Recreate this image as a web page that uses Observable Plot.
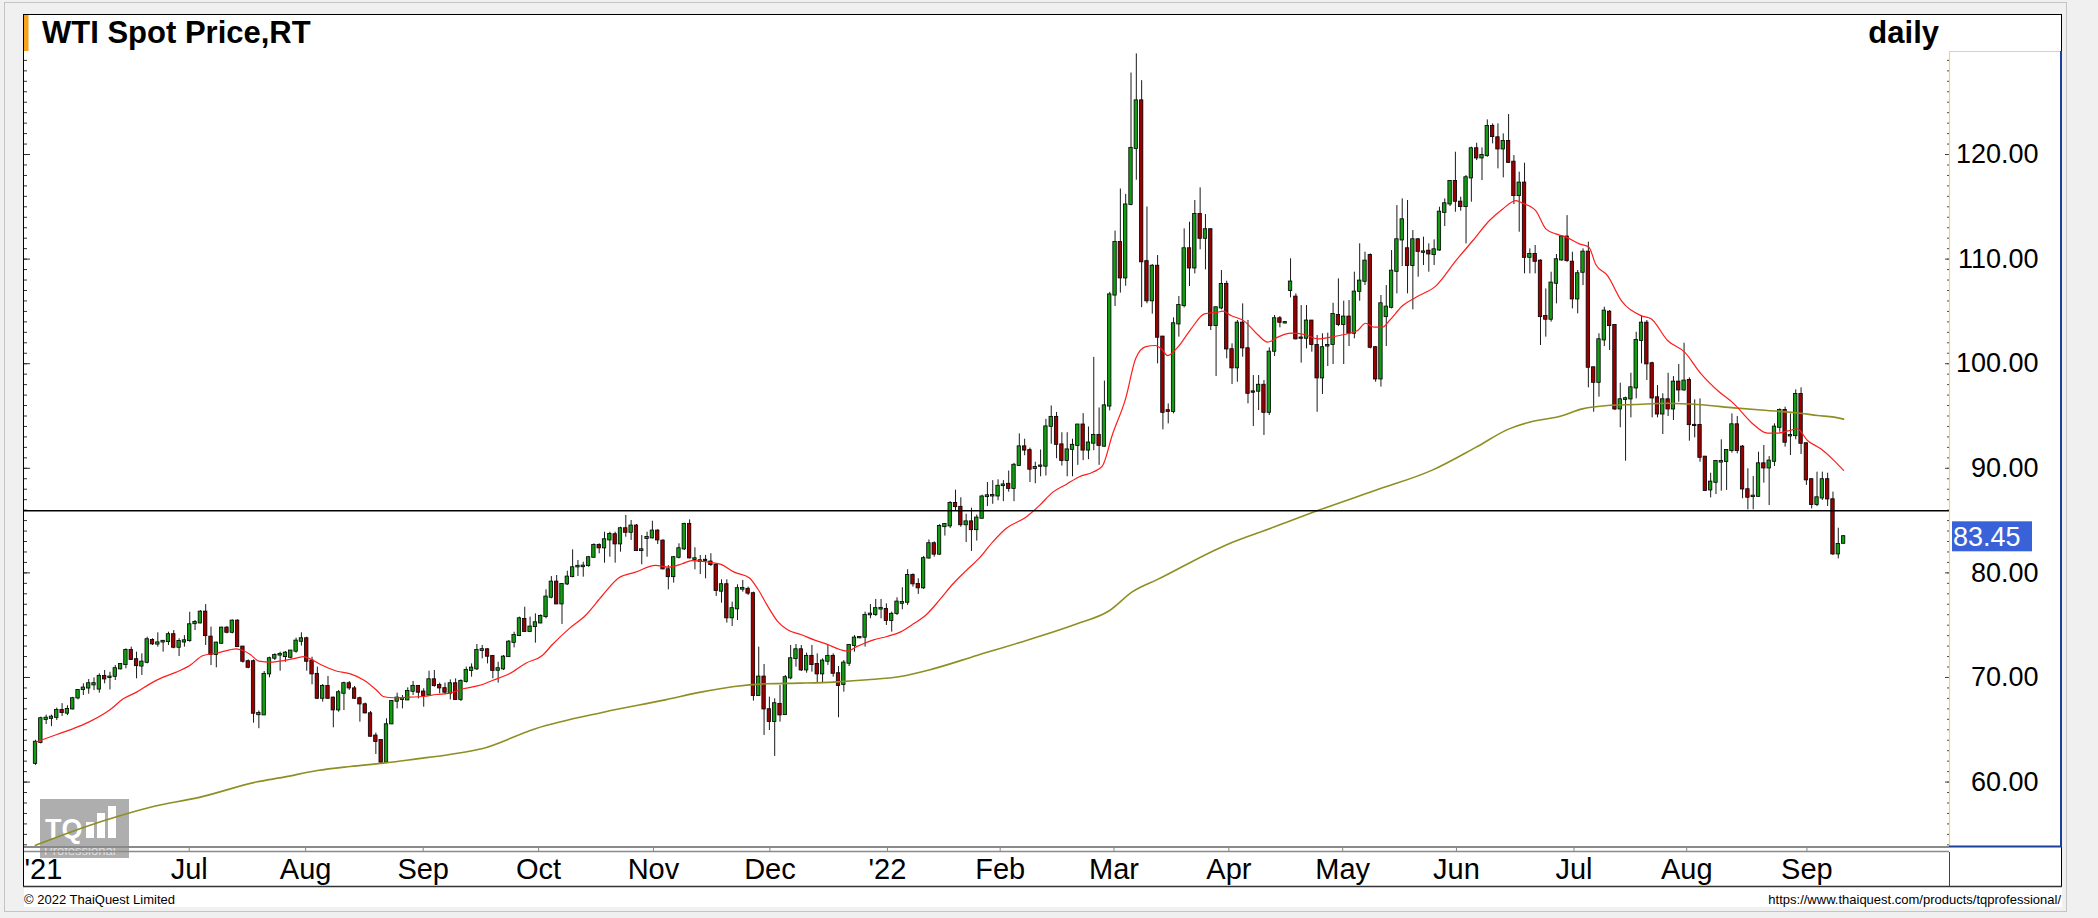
<!DOCTYPE html>
<html><head><meta charset="utf-8">
<script src="https://cdn.jsdelivr.net/npm/d3@7"></script>
<script src="https://cdn.jsdelivr.net/npm/@observablehq/plot@0.6"></script>
<style>
body{margin:0;background:#f0f0f0;}
#wrap{position:relative;width:2098px;height:918px;overflow:hidden;font-family:"Liberation Sans",Arial,sans-serif;}
#bg,#fg,#chart{position:absolute;left:0;top:0;}
#fg{pointer-events:none;}
</style></head><body>
<div id="wrap">
<svg id="bg" width="2098" height="918">
  <rect x="4.5" y="2.5" width="2062" height="909" fill="none" stroke="#c4c4c4"/>
  <rect x="24" y="14" width="2038" height="893" fill="#fff"/>
  <g opacity="0.8">
    <rect x="40" y="799" width="89" height="59" fill="#9a9a9a"/>
    <text x="45" y="838" font-family="Liberation Sans, Arial, sans-serif" font-weight="bold" font-size="27" fill="#fff">TQ</text>
    <rect x="86" y="822" width="8" height="16" fill="#fff"/>
    <rect x="97" y="813" width="8" height="25" fill="#fff"/>
    <rect x="108" y="806" width="8" height="32" fill="#fff"/>
    <text x="44" y="855" font-family="Liberation Sans, Arial, sans-serif" font-size="13" fill="#dcdcdc">Professional</text>
  </g>
</svg>
<div id="chart"></div>
<svg id="fg" width="2098" height="918"></svg>
</div>
<script>
// ---------- data (daily candles, index 0 = first candle) ----------
const opens = [
61.8,63.8,66.0,66.1,66.2,66.84,66.6,67.0,68.05,68.85,
69.0,69.3,68.9,70.09,70.0,70.12,70.83,71.24,72.58,71.69,
71.1,71.46,73.53,73.2,73.4,73.44,74.08,72.9,73.4,73.53,
75.15,75.22,76.24,73.85,72.2,73.28,74.71,74.33,75.38,72.9,
71.5,71.5,66.45,66.43,70.35,71.85,72.15,72.0,71.94,72.52,
73.47,73.69,71.56,70.29,68.02,69.14,68.02,66.91,68.5,69.39,
68.9,67.96,67.38,66.52,64.39,63.97,61.91,65.57,67.74,67.9,
67.86,68.69,69.14,68.6,68.34,69.77,69.23,68.92,68.5,69.39,
67.9,69.62,70.67,70.83,72.6,72.64,72.01,70.7,70.83,72.0,
73.37,74.01,75.54,74.4,74.87,75.22,75.83,77.68,79.11,77.04,
78.95,79.65,80.58,80.6,80.7,81.5,82.62,82.4,83.16,83.64,
82.78,84.21,83.89,84.47,82.14,83.3,83.35,83.99,83.03,80.29,
79.65,81.5,82.3,84.63,81.3,81.1,81.2,81.03,80.71,78.26,
78.86,75.71,76.57,78.45,78.42,78.0,68.28,70.03,66.91,65.8,
67.42,66.46,69.97,71.81,72.64,70.73,72.01,71.24,70.35,71.56,
72.01,70.35,69.33,71.37,73.06,73.8,73.86,76.0,76.03,76.55,
76.5,75.45,76.13,77.1,77.2,79.75,78.89,78.58,81.43,82.78,
81.8,84.43,84.5,86.63,86.26,84.61,84.87,84.14,85.23,87.3,
87.36,87.36,88.35,88.46,88.09,90.28,92.04,91.68,90.0,90.2,
90.21,94.02,94.86,92.23,90.76,91.82,92.19,94.13,91.75,92.41,
93.14,92.12,95.96,106.57,111.58,108.21,115.24,120.58,125.12,109.75,
106.02,109.31,102.54,95.5,95.45,103.81,105.56,110.98,109.16,114.26,
112.0,112.8,103.65,105.34,107.57,101.33,99.61,103.87,101.42,97.3,
97.38,97.93,95.36,101.2,104.29,103.9,107.0,106.36,102.45,102.44,
104.07,101.74,98.65,101.7,101.84,104.61,103.75,104.45,102.92,106.93,
107.89,110.34,101.52,98.55,104.51,105.4,108.84,111.84,110.98,109.39,
111.84,110.66,110.75,110.44,110.88,114.48,115.28,117.42,115.44,115.03,
117.77,120.54,119.68,119.9,122.67,121.59,120.54,121.24,119.26,116.08,
117.26,110.18,110.44,109.8,104.51,104.26,107.7,109.93,112.1,109.7,
106.2,108.75,110.66,99.6,98.23,102.28,104.92,103.65,95.68,96.6,
96.64,97.69,102.22,103.87,99.99,96.73,95.2,96.54,95.68,98.23,
97.5,98.39,94.1,94.09,91.06,87.94,88.67,90.6,90.65,91.7,
94.15,92.02,87.94,87.3,87.33,90.42,90.04,90.68,93.93,95.52,
93.1,93.13,97.05,92.34,88.9,86.54,87.17,88.9,86.98,81.82,
82.84];
const highs = [
64.0,66.2,66.4,66.4,67.07,67.5,67.3,68.1,68.85,69.39,
69.8,69.96,70.35,70.67,70.5,71.14,71.3,72.74,72.9,72.42,
72.26,73.85,73.7,74.27,73.53,74.33,74.49,73.7,74.0,76.24,
75.45,76.4,76.97,74.81,73.37,74.81,74.87,75.51,75.51,72.96,
71.68,71.68,66.8,70.57,71.94,72.26,72.42,72.48,72.58,73.76,
74.27,73.85,71.94,70.99,69.33,70.1,68.12,68.76,69.55,69.62,
69.14,68.12,67.55,66.75,64.68,64.04,66.05,67.8,68.5,68.28,
69.01,69.62,69.23,68.92,70.6,70.67,69.46,69.46,69.77,69.87,
69.77,70.99,71.3,73.15,73.06,72.74,72.1,71.46,72.1,73.53,
74.33,75.77,76.72,75.77,76.08,75.99,78.38,79.65,79.75,78.95,
80.16,82.2,81.18,81.02,81.57,82.78,82.78,83.89,83.89,83.89,
84.37,85.49,85.01,84.63,83.57,83.89,84.94,84.12,83.16,80.7,
81.57,82.78,84.75,85.07,82.4,81.66,81.67,81.83,80.81,79.34,
79.34,77.2,78.86,79.28,78.64,78.16,72.9,71.24,68.12,67.96,
69.24,70.19,73.06,73.15,73.06,72.33,73.06,72.26,71.78,73.06,
72.26,71.05,71.62,73.15,74.01,73.9,76.25,76.98,77.46,77.46,
77.04,76.25,77.62,78.58,80.3,79.91,79.43,81.57,83.15,82.97,
84.61,84.72,86.81,87.91,87.18,85.6,86.19,85.53,87.43,88.64,
88.82,88.9,88.82,89.74,90.47,93.29,92.78,91.93,90.58,91.75,
94.68,95.96,95.34,93.4,93.4,92.78,94.13,95.23,93.95,100.6,
95.77,98.34,106.82,112.68,116.7,116.19,127.79,129.62,127.06,114.98,
109.49,110.34,102.6,96.16,104.38,106.42,112.89,113.53,115.6,116.81,
114.26,112.89,105.4,108.91,107.89,101.9,104.13,105.72,104.13,98.87,
98.87,98.39,101.52,104.61,104.51,104.0,110.03,106.68,105.56,105.56,
104.13,102.7,102.86,102.92,105.78,108.11,105.98,106.04,108.75,111.46,
110.66,110.5,101.64,106.52,107.47,110.82,115.12,115.76,115.6,112.73,
111.94,112.1,111.46,111.84,114.96,115.76,117.51,120.22,115.92,117.99,
120.7,121.08,120.63,123.31,122.93,122.93,121.97,123.82,119.9,118.31,
119.17,110.98,111.3,109.93,107.15,108.75,110.44,112.25,114.16,110.66,
108.91,110.98,111.62,99.67,102.86,105.4,105.08,103.75,98.14,96.8,
99.09,103.01,104.6,104.13,100.14,97.91,97.12,99.09,98.77,99.92,
101.96,98.65,96.54,96.64,91.12,89.53,90.74,92.72,91.76,95.2,
94.95,92.18,89.95,89.21,91.54,92.18,91.12,94.25,95.68,95.84,
95.2,97.5,97.69,92.4,89.0,89.63,89.63,89.53,87.72,84.27,
83.57];
const lows = [
61.6,63.65,65.5,65.3,65.89,66.27,66.36,66.9,67.86,68.28,
68.4,68.75,68.5,69.39,68.8,69.71,70.73,70.83,71.62,69.87,
70.19,71.3,73.06,72.9,72.42,73.06,72.74,72.0,72.9,73.37,
74.49,75.13,73.06,71.14,70.92,73.15,74.17,74.17,72.9,71.37,
70.83,65.63,65.1,66.37,69.97,71.62,70.6,71.46,71.78,72.32,
73.0,70.6,69.3,67.9,67.64,67.9,65.19,66.68,66.84,68.76,
67.9,65.73,66.52,64.3,62.64,61.75,61.75,65.5,67.0,67.0,
67.8,68.28,67.96,67.16,68.28,69.07,68.44,68.34,67.86,67.8,
67.7,69.46,70.03,70.67,71.78,71.3,69.87,69.46,70.67,71.94,
72.83,73.92,74.33,74.33,73.28,75.13,75.61,77.52,76.98,75.07,
78.79,79.53,79.65,79.59,80.55,81.44,81.82,80.93,81.5,80.93,
81.98,83.41,83.1,82.08,80.77,81.5,83.25,82.71,80.29,78.38,
79.02,81.34,82.14,81.34,80.29,79.84,79.43,80.61,77.75,77.11,
75.2,74.88,75.45,78.16,77.84,67.74,68.22,64.46,64.93,62.45,
65.73,66.37,69.78,70.99,70.57,70.41,70.51,69.46,69.46,71.15,
70.03,66.15,68.6,71.05,72.42,73.7,72.9,75.61,75.84,75.61,
74.97,74.34,75.93,76.47,76.89,78.64,77.94,78.42,81.32,81.5,
81.69,83.52,84.25,85.9,84.36,82.9,82.05,83.04,85.16,86.34,
86.56,86.9,86.81,87.72,86.81,90.21,91.2,88.64,88.53,89.19,
89.26,92.3,90.91,90.21,89.19,89.19,90.28,90.73,90.83,91.68,
90.28,92.04,95.49,105.47,106.75,107.41,115.1,117.54,105.36,105.73,
104.74,99.98,93.68,94.25,95.21,102.54,105.34,107.38,108.59,110.89,
108.97,103.17,98.78,105.15,100.47,98.01,98.23,100.62,96.16,94.0,
95.52,93.14,95.05,100.69,103.43,103.8,106.3,102.28,100.05,101.42,
101.1,95.36,97.06,99.73,99.92,103.55,99.92,101.64,102.38,105.98,
107.48,101.42,98.23,97.76,101.64,105.24,106.68,109.29,106.68,105.15,
108.27,109.39,108.75,109.39,110.75,113.11,115.03,114.48,114.58,111.46,
115.44,119.42,117.51,119.74,121.02,118.63,117.77,119.17,115.22,112.57,
108.59,108.59,108.59,101.74,102.54,103.97,105.72,109.8,109.7,105.24,
104.77,107.47,97.69,95.36,96.8,101.64,101.26,95.52,93.87,90.68,
94.82,96.64,99.99,98.39,94.82,94.82,93.23,94.95,94.57,96.32,
97.37,92.59,92.91,90.58,87.8,87.17,87.49,87.81,87.88,91.45,
91.38,87.08,86.03,86.03,87.24,88.58,86.44,90.17,93.45,92.02,
91.22,92.72,91.32,88.36,86.12,86.34,86.92,86.35,81.66,81.34,
82.78];
const closes = [
63.8,66.05,66.1,66.2,66.84,66.65,66.93,67.96,68.75,68.98,
69.39,69.4,70.09,69.87,70.03,70.83,71.24,72.58,71.72,71.14,
71.46,73.6,73.22,73.3,73.45,74.08,72.9,73.44,73.5,75.03,
75.25,76.24,74.01,72.2,73.28,74.71,74.33,75.38,72.96,71.56,
70.98,66.59,66.55,70.29,71.78,72.1,72.2,72.32,72.52,73.47,
73.69,71.56,70.35,68.02,69.14,68.02,66.91,68.53,69.4,69.01,
68.02,67.48,66.62,64.39,63.88,61.91,65.47,67.7,68.02,67.98,
68.66,69.14,68.6,68.28,69.77,69.23,69.01,68.6,69.39,67.9,
69.62,70.67,70.89,72.58,72.65,72.04,70.67,70.83,71.94,73.37,
74.01,75.6,74.4,74.81,75.22,75.83,77.68,79.11,77.04,78.89,
79.59,80.48,80.62,80.64,81.44,82.62,82.4,83.16,83.67,82.78,
84.21,83.89,84.47,82.14,82.2,83.38,83.99,83.16,80.39,79.65,
81.44,82.3,84.63,81.44,81.34,81.15,81.19,80.8,78.32,78.86,
75.71,76.57,78.48,78.5,78.07,68.28,70.03,67.0,65.8,67.48,
66.43,69.97,71.78,72.64,70.73,72.01,71.24,70.35,71.56,72.01,
70.41,69.24,71.37,73.06,73.76,73.82,75.93,76.05,76.57,76.6,
75.45,76.03,77.2,77.15,79.75,78.96,78.58,81.35,82.78,81.8,
84.43,84.61,86.63,86.34,84.61,84.87,84.14,85.23,87.25,87.36,
87.4,88.27,88.4,88.09,90.28,92.04,91.75,89.92,90.06,90.21,
93.95,94.86,92.3,90.76,91.75,92.19,94.13,91.75,92.41,93.14,
92.2,95.96,106.57,111.58,108.21,115.17,120.58,125.12,109.75,106.02,
109.31,102.54,95.36,95.45,103.81,105.56,110.98,109.16,114.26,112.0,
112.8,103.65,105.34,107.57,101.42,99.61,103.87,101.52,97.18,97.28,
97.93,95.36,101.1,104.29,103.97,103.92,107.8,102.38,102.44,104.07,
101.84,98.65,101.52,101.74,104.7,103.75,104.45,102.92,106.84,107.89,
109.8,101.58,98.55,105.72,105.4,108.84,111.84,113.75,109.39,111.84,
110.75,110.68,110.5,110.88,114.48,115.28,117.42,115.54,115.03,117.77,
120.54,119.68,119.9,122.67,121.72,120.54,121.24,119.26,116.08,117.26,
110.18,110.44,109.8,104.51,104.26,107.7,109.93,112.1,109.86,106.2,
108.59,110.66,99.67,98.23,102.28,105.02,103.65,95.68,96.54,96.64,
97.69,102.22,103.87,99.99,96.73,95.2,96.54,95.68,98.23,97.5,
98.33,94.18,94.09,91.06,87.88,88.67,90.65,90.65,91.7,94.15,
91.7,88.03,87.24,87.33,90.42,90.04,90.68,93.93,95.52,92.5,
93.13,97.05,92.4,88.9,86.54,87.17,88.9,87.08,81.82,82.71,
83.45];

// moving averages at sample candle positions
const redIdx = [0,4,7,10,14,16.5,19,21.5,24,26.5,29,31.5,34,36.5,37.75,39,40.4,42,44.2,46.7,49.2,50.4,51.7,53.6,56.7,59.2,61.7,64.2,65.4,67.3,70.4,72.9,75.4,77.9,80.4,83.9,85.9,89.1,92.2,95.3,97.2,100.3,103.4,106.6,109.7,112.8,116.6,119.1,121.6,123.4,126.3,128.9,131.4,134.2,135.8,137.6,139.5,141.4,143.9,146.4,148.9,151.4,152.6,154.5,157.6,160.1,162.6,165.1,167.6,170,172.5,175,177.5,180,182.5,186.3,188.8,191.3,193.8,196.3,198.8,200.6,202.5,205,206.9,208.8,210.6,211.7,212.9,214.8,217.3,219.8,222.3,223.3,224.8,227.3,229.8,231.7,233.6,236.1,238.6,241.1,243.6,246.1,248.6,250.1,251.7,253.3,254.6,257.1,259.6,263.4,267.1,270.3,273.4,275.9,278.4,279.6,282.1,284,285.9,287.8,290.3,292.1,293.4,295.6,298.2,301.9,303.8,306.9,310.1,313.2,316.3,319.4,322.6,325.7,327.6,329.4,331.3,333.2,335.7,338.2,340];
const redVal = [63.81,64.55,65.09,65.73,66.91,67.96,68.6,69.39,70.03,70.51,71.14,72.1,72.32,72.64,72.74,72.58,72.2,71.56,71.46,71.62,71.88,72.0,71.78,71.24,70.6,70.35,69.77,68.76,68.18,68.06,68.12,68.18,68.37,68.5,68.92,69.3,69.71,70.35,71.37,72.1,73.15,74.65,75.93,77.84,79.53,80.07,80.71,80.55,80.87,81.18,81.05,80.81,80.07,79.53,78.48,76.89,75.39,74.56,74.11,73.6,73.16,72.65,72.52,72.97,73.6,73.92,74.34,75.13,76.05,77.41,78.94,80.22,81.43,82.97,84.25,85.35,86.45,87.72,88.46,89.19,89.63,90.21,93.21,96.69,100.53,101.63,101.74,101.42,100.78,101.58,103.33,104.77,104.93,105.02,104.61,104.07,102.79,102.06,102.54,102.92,102.79,102.38,102.54,102.79,103.17,103.87,103.49,103.5,104.13,105.56,106.36,107.47,109.86,111.78,113.69,114.8,115.6,115.35,114.64,112.89,112.41,112.1,111.46,111.14,109.48,108.43,106.04,104.6,104.29,102.22,101.1,99.03,97.44,96.16,94.41,93.36,93.36,93.55,93.77,92.66,91.86,90.74,89.8];
const oliveIdx = [0,12.2,21.6,31,41.5,46.7,53,59.2,65.4,71.7,77.9,83.9,94,107,118.4,125.1,131.4,137.6,143.9,150.1,156.4,162.6,168.6,177,186.9,195.6,201.9,206.3,211,224,233,241,252,262.75,270.9,277.1,280.9,286.5,290.9,295.6,300.7,306.9,313.2,319.4,325.7,331.9,335.1,338.2,340];
const oliveVal = [53.95,56.2,57.6,58.56,60.0,60.47,61.1,61.49,61.81,62.22,62.64,63.18,65.1,66.7,67.86,68.6,69.14,69.4,69.46,69.56,69.78,70.1,70.8,72.1,73.64,75.1,76.38,78.21,79.38,82.7,84.4,85.94,87.9,89.85,92.02,93.77,94.41,94.95,95.68,96.0,96.1,96.22,96.07,95.78,95.52,95.27,95.05,94.89,94.7];

const hLevel = 85.94;
const lastPrice = 83.45;
const priceTicks = [60,70,80,90,100,110,120];
const monthTicks = [28.9,50.8,72.9,94.6,116.2,138.1,160.2,181.4,202.8,224.4,245.8,267.2,289.3,310.5,333.1];
const monthLabels = ["Jul","Aug","Sep","Oct","Nov","Dec","'22","Feb","Mar","Apr","May","Jun","Jul","Aug","Sep"];
const firstLabel = "'21";
const xDomain = [-2.07, 360.1];
const yDomain = [53.84, 129.85];

// ---------- build ----------
const candles = opens.map((o, i) => ({i, open: o, high: highs[i], low: lows[i], close: closes[i]}));
const redMA = redIdx.map((x, k) => ({x, y: redVal[k]}));
const oliveMA = oliveIdx.map((x, k) => ({x, y: oliveVal[k]}));
const minorTicks = d3.range(54, 130);
const up = "#129c12", down = "#9a0000";
const FONT = "Liberation Sans, Arial, sans-serif";
const W = 2098, H = 918, ML = 24, MR = 148, MT = 51, MB = 72;
const plotW = W - ML - MR;

const chart = Plot.plot({
  width: W, height: H,
  marginLeft: ML, marginRight: MR, marginTop: MT, marginBottom: MB,
  x: {type: "linear", domain: xDomain},
  y: {type: "linear", domain: yDomain, axis: null},
  style: {background: "transparent", fontFamily: FONT, overflow: "visible", color: "black"},
  marks: [
    // edge ticks on price scale
    Plot.tickY(minorTicks, {y: d => d, insetRight: plotW - 3, stroke: "#333"}),
    Plot.tickY(priceTicks, {y: d => d, insetRight: plotW - 6, stroke: "#333"}),
    Plot.tickY(minorTicks, {y: d => d, insetLeft: plotW - 3, stroke: "#444"}),
    Plot.tickY(priceTicks, {y: d => d, insetLeft: plotW - 5, stroke: "#444"}),
    // candles
    Plot.ruleX(candles, {x: "i", y1: "low", y2: "high", stroke: "#1a1a1a", strokeWidth: 1}),
    Plot.rect(candles, {
      x1: d => d.i - 0.32, x2: d => d.i + 0.32,
      y1: d => Math.min(d.open, d.close), y2: d => Math.max(d.open, d.close),
      fill: d => d.close >= d.open ? up : down,
      stroke: "#000", strokeWidth: 0.8, insetTop: -0.6, insetBottom: -0.6
    }),
    // moving averages
    Plot.line(oliveMA, {x: "x", y: "y", stroke: "#8e8e22", strokeWidth: 1.6, curve: "monotone-x"}),
    Plot.line(redMA, {x: "x", y: "y", stroke: "#ff1c1c", strokeWidth: 1.2, curve: "monotone-x"}),
    // horizontal level
    Plot.ruleY([hLevel], {stroke: "#000", strokeWidth: 1.6}),
    // price labels
    Plot.text(priceTicks, {y: d => d, text: d => d.toFixed(2), frameAnchor: "right", textAnchor: "end", dx: 88, fontSize: 27, fill: "#000"}),
    // date axis
    Plot.axisX(monthTicks, {anchor: "bottom", tickSize: 5, stroke: "#888", fill: "none", label: null}),
    Plot.text(monthTicks, {x: d => d, text: (d, i) => monthLabels[i], frameAnchor: "bottom", lineAnchor: "top", dy: 12, fontSize: 29, fill: "#000"}),
    Plot.text([firstLabel], {text: d => d, frameAnchor: "bottom-left", textAnchor: "start", lineAnchor: "top", dy: 12, fontSize: 29, fill: "#000"})
  ]
});
document.getElementById("chart").appendChild(chart);

// last-price tag placed with the plot's own y scale
const yS = chart.scale("y");
const yLast = yS.apply(lastPrice);
const svgC = d3.select(chart.tagName.toLowerCase() === "svg" ? chart : chart.querySelector("svg"));
const tag = svgC.append("g");
tag.append("rect").attr("x", W - MR + 2).attr("y", yLast - 15).attr("width", 80).attr("height", 30).attr("fill", "#3a62d8");
tag.append("text").attr("x", W - MR + 3).attr("y", yLast).attr("dy", "0.36em").attr("text-anchor", "start")
  .attr("font-family", FONT).attr("font-size", 27).attr("fill", "#fff").text(lastPrice.toFixed(2));

// ---------- frame decorations ----------
const fg = d3.select("#fg");
const line = (x1, y1, x2, y2, c, w) => fg.append("line").attr("x1", x1).attr("y1", y1).attr("x2", x2).attr("y2", y2).attr("stroke", c).attr("stroke-width", w);
line(23.5, 14, 23.5, 887, "#000", 1);
line(23, 14.5, 2062, 14.5, "#000", 1);
line(2061.5, 14, 2061.5, 51, "#000", 1);
line(2061.5, 846, 2061.5, 887, "#000", 1);
line(23, 886.5, 2062, 886.5, "#333", 1.5);
fg.append("rect").attr("x", 24).attr("y", 15).attr("width", 4.5).attr("height", 36).attr("fill", "#f9a11b");
fg.append("text").attr("x", 42).attr("y", 42.5).attr("font-family", FONT).attr("font-weight", "bold").attr("font-size", 31).text("WTI Spot Price,RT");
fg.append("text").attr("x", 1939).attr("y", 42.5).attr("text-anchor", "end").attr("font-family", FONT).attr("font-weight", "bold").attr("font-size", 31).text("daily");
// price panel borders
line(1949, 51.5, 2061, 51.5, "#f0d27a", 1.2);
line(1949.5, 51, 1949.5, 846, "#f0d27a", 1.2);
line(2061, 51, 2061, 847, "#1d3f9e", 2);
line(1949, 846.5, 2062, 846.5, "#1d3f9e", 2);
// date axis borders
line(24, 847, 1949, 847, "#8a8a8a", 2);
line(24, 851.5, 1949, 851.5, "#8a8a8a", 1.5);
line(1949.5, 852, 1949.5, 887, "#444", 1);
// footers
fg.append("text").attr("x", 24).attr("y", 904).attr("font-family", FONT).attr("font-size", 13).text("\u00a9 2022 ThaiQuest Limited");
fg.append("text").attr("x", 2061).attr("y", 904).attr("text-anchor", "end").attr("font-family", FONT).attr("font-size", 13).text("https://www.thaiquest.com/products/tqprofessional/");
</script>
</body></html>
